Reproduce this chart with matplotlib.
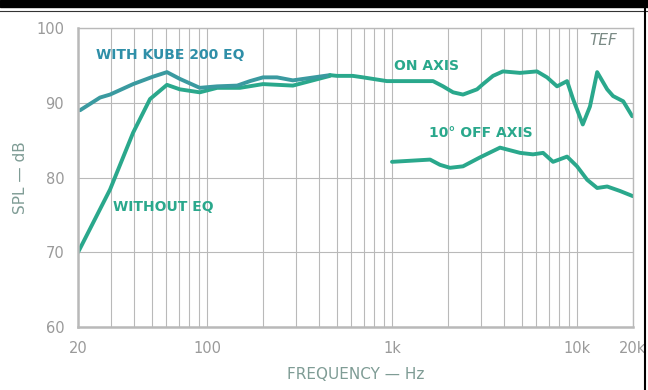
import numpy as np
import matplotlib
matplotlib.use("Agg")
import matplotlib.pyplot as plt
from matplotlib.ticker import FixedLocator, NullFormatter

# with KUBE 200 EQ (low end)
eq_freq = [20.5, 26.3, 29.8, 39.7, 50.9, 60.5, 71, 91, 113, 145, 170, 200, 238, 290, 460]
eq_spl = [89.0, 90.7, 91.1, 92.5, 93.5, 94.1, 93.2, 92.0, 92.2, 92.3, 92.9, 93.4, 93.4, 93.0, 93.7]

# without EQ (low end)
noeq_freq = [20, 20.5, 29.8, 39.7, 49, 60.5, 71, 91, 113, 150, 200, 290, 460]
noeq_spl = [70.0, 70.5, 78.4, 86.0, 90.5, 92.4, 91.8, 91.4, 92.0, 92.0, 92.5, 92.3, 93.6]

# on axis (common part)
on_freq = [460, 502, 612, 695, 935, 1660, 1880, 2130, 2410, 2870, 3090, 3500, 3960,
           4900, 6050, 6860, 7770, 8800, 9480, 10700, 11700, 12800, 14500, 15600, 17700, 19800]
on_spl = [93.7, 93.6, 93.6, 93.4, 92.9, 92.9, 92.2, 91.4, 91.1, 91.8, 92.5, 93.6, 94.2,
          94.0, 94.2, 93.4, 92.2, 92.9, 90.5, 87.1, 89.5, 94.1, 91.8, 90.9, 90.2, 88.2]

# 10 deg off axis
off_freq = [996, 1600, 1810, 2050, 2410, 2980, 3820, 4900, 5760, 6530, 7390, 8800, 9960,
            11300, 12800, 14500, 17000, 20000]
off_spl = [82.1, 82.4, 81.7, 81.3, 81.5, 82.7, 84.0, 83.3, 83.1, 83.3, 82.1, 82.8, 81.5,
           79.7, 78.6, 78.8, 78.2, 77.5]

xtick_vals = [20, 100, 1000, 10000, 20000]
xtick_text = ["20", "100", "1k", "10k", "20k"]
ytick_vals = [60, 70, 80, 90, 100]

grid_col = "#b9b9b9"
line_col = "#2aa88c"
blue_col = "#2f8fa8"
text_col = "#9a9a9a"

fig = plt.figure(figsize=(6.48, 3.9), dpi=100)
ax = fig.add_axes([0.1204, 0.1615, 0.8565, 0.7666])

ax.set_xscale("log")
ax.set_xlim(20, 20000)
ax.set_ylim(60, 100)

minor = [m * d for d in [10, 100, 1000, 10000] for m in range(2, 10) if 20 <= m * d <= 20000]
ax.xaxis.set_major_locator(FixedLocator(xtick_vals))
ax.xaxis.set_minor_locator(FixedLocator(minor))
ax.xaxis.set_minor_formatter(NullFormatter())
ax.set_xticklabels(xtick_text)
ax.set_yticks(ytick_vals)
ax.grid(True, which="both", axis="x", color=grid_col, lw=0.8)
ax.grid(True, which="major", axis="y", color=grid_col, lw=0.8)
ax.tick_params(which="both", length=0, colors=text_col, labelsize=10.5, pad=10)
for s in ax.spines.values():
    s.set_color(grid_col)
    s.set_linewidth(1.0)
ax.spines["bottom"].set_linewidth(1.8)
ax.spines["left"].set_linewidth(1.8)

ax.plot(noeq_freq, noeq_spl, color=line_col, lw=2.8, solid_capstyle="round")
ax.plot(eq_freq, eq_spl, color="#3a9aa0", lw=2.8, solid_capstyle="round")
ax.plot(on_freq, on_spl, color=line_col, lw=2.8, solid_capstyle="round")
ax.plot(off_freq, off_spl, color=line_col, lw=2.8, solid_capstyle="round")

lab = dict(fontsize=10, fontweight="bold", va="center")
ax.text(25, 96.4, "WITH KUBE 200 EQ", color=blue_col, **lab)
ax.text(1020, 94.9, "ON AXIS", color=line_col, **lab)
ax.text(1580, 86.0, "10° OFF AXIS", color=line_col, **lab)
ax.text(31, 76.0, "WITHOUT EQ", color=line_col, **lab)
ax.text(11600, 98.3, "TEF", color="#7a8a85", fontsize=11, style="italic", va="center")

ax.set_xlabel("FREQUENCY — Hz", color="#7f9c95", fontsize=11, labelpad=8)
ax.set_ylabel("SPL — dB", color="#7f9c95", fontsize=11, labelpad=6)

# scan border
fig.patches.append(plt.Rectangle((0, 0.982), 1, 0.018, transform=fig.transFigure, color="black"))
fig.lines.append(plt.Line2D([0, 1], [0.973, 0.973], transform=fig.transFigure, color="#333333", lw=0.8))
fig.lines.append(plt.Line2D([0.996, 0.996], [0, 1], transform=fig.transFigure, color="black", lw=1.5))

fig.savefig("out.png", dpi=100)
